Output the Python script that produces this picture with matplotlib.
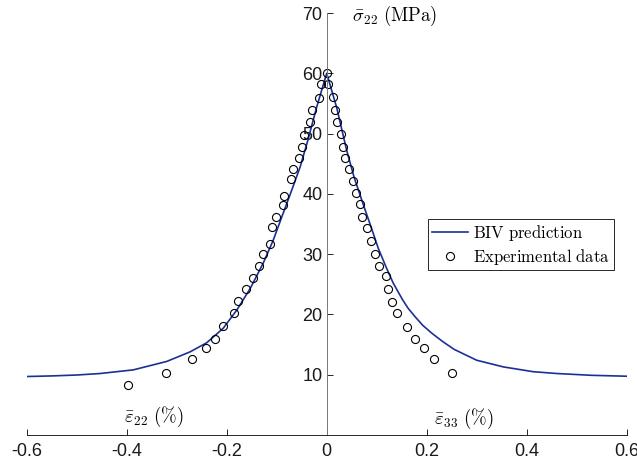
import matplotlib
matplotlib.use('Agg')
import matplotlib.pyplot as plt

plt.rcParams['mathtext.fontset'] = 'cm'
plt.rcParams['font.family'] = ['Liberation Sans', 'DejaVu Sans']

# BIV prediction (strain in %, stress in MPa)
biv_x = [-0.60, -0.55, -0.50, -0.453, -0.387, -0.320, -0.273, -0.240, -0.207,
         -0.180, -0.153, -0.127, -0.107, -0.087, -0.070, -0.053, -0.038,
         -0.020, 0.0,
         0.020, 0.040, 0.055, 0.070, 0.077, 0.090, 0.103, 0.118, 0.133,
         0.152, 0.163, 0.177, 0.192, 0.210, 0.232, 0.255, 0.300, 0.353,
         0.413, 0.460, 0.53, 0.60]
biv_y = [9.7, 9.8, 9.95, 10.2, 10.8, 12.2, 13.8, 15.3, 17.7,
         20.7, 24.3, 28.5, 32.3, 36.8, 40.6, 44.5, 48.8,
         54.4, 60.0,
         54.3, 47.2, 42.7, 39.0, 37.3, 34.2, 31.0, 28.0, 25.2,
         22.4, 21.0, 19.6, 18.2, 16.9, 15.5, 14.2, 12.4, 11.3,
         10.5, 10.2, 9.9, 9.75]

# experimental points
exp_x = [-0.397, -0.321, -0.270, -0.241, -0.224, -0.207, -0.185, -0.178,
         -0.161, -0.148, -0.135, -0.127, -0.113, -0.110, -0.101, -0.088,
         -0.085, -0.071, -0.068, -0.055, -0.050, -0.045, -0.034, -0.030,
         -0.016, -0.012, 0.0,
         0.003, 0.012, 0.017, 0.021, 0.029, 0.033, 0.037, 0.045, 0.053,
         0.058, 0.067, 0.071, 0.080, 0.088, 0.097, 0.105, 0.119, 0.122,
         0.130, 0.140, 0.160, 0.177, 0.194, 0.215, 0.250]
exp_y = [8.3, 10.3, 12.6, 14.4, 16.0, 18.0, 20.3, 22.2,
         24.2, 26.1, 28.1, 30.1, 31.7, 34.5, 36.2, 38.2,
         39.7, 42.5, 44.1, 45.9, 47.8, 49.8, 52.0, 53.9,
         55.9, 58.2, 60.1,
         58.2, 56.0, 53.9, 51.9, 49.9, 47.8, 45.9, 44.1, 42.2,
         40.2, 38.3, 36.2, 34.3, 32.2, 30.1, 28.1, 26.4, 24.2,
         22.1, 20.3, 17.9, 16.0, 14.5, 12.6, 10.3]

xticks = [-0.6, -0.4, -0.2, 0, 0.2, 0.4, 0.6]
xticklabels = ['-0.6', '-0.4', '-0.2', '0', '0.2', '0.4', '0.6']
yticks = [10, 20, 30, 40, 50, 60, 70]

fig = plt.figure(figsize=(6.37, 4.70), dpi=100)
ax = fig.add_axes([26.7 / 637, 35 / 470, 600 / 637, 422 / 470])

ax.plot(biv_x, biv_y, color='#1c2f96', lw=1.2, label=r'$\mathrm{BIV\ prediction}$')
ax.plot(exp_x, exp_y, ls='none', marker='o', ms=5.8, mfc='none', mec='black',
        mew=0.8, label=r'$\mathrm{Experimental\ data}$')

ax.set_xlim(-0.6, 0.6)
ax.set_ylim(0, 70)
ax.spines['left'].set_position(('data', 0))
ax.spines['bottom'].set_position(('data', 0))
ax.spines['right'].set_visible(False)
ax.spines['top'].set_visible(False)
ax.spines['left'].set_color('#777777')
ax.spines['bottom'].set_color('#262626')
ax.spines['left'].set_linewidth(0.7)
ax.spines['bottom'].set_linewidth(0.7)

ax.set_xticks(xticks)
ax.set_xticklabels(xticklabels)
ax.set_yticks(yticks)
ax.tick_params(direction='in', length=4, width=0.7, labelsize=13,
               labelcolor='#1a1a1a', color='#262626')
ax.tick_params(axis='x', pad=6)
ax.tick_params(axis='y', pad=3)

ax.text(0.05, 69.5, r'$\bar{\sigma}_{22}\ \mathrm{(MPa)}$', fontsize=13.5,
        ha='left', va='center', clip_on=False)
ax.text(-0.405, 3.0, r'$\bar{\varepsilon}_{22}\ \mathrm{(\%)}$', fontsize=13.5,
        ha='left', va='center')
ax.text(0.215, 2.65, r'$\bar{\varepsilon}_{33}\ \mathrm{(\%)}$', fontsize=13.5,
        ha='left', va='center')

leg = ax.legend(loc='upper left', bbox_to_anchor=(428.3 / 637, 1 - 219.3 / 470),
                bbox_transform=fig.transFigure, borderaxespad=0, fancybox=False,
                framealpha=1, edgecolor='#262626', fontsize=12,
                handlelength=2.2, handletextpad=0.3, labelspacing=0.25,
                borderpad=0.2)
leg.get_frame().set_linewidth(0.7)

fig.savefig('out.png', dpi=100)
